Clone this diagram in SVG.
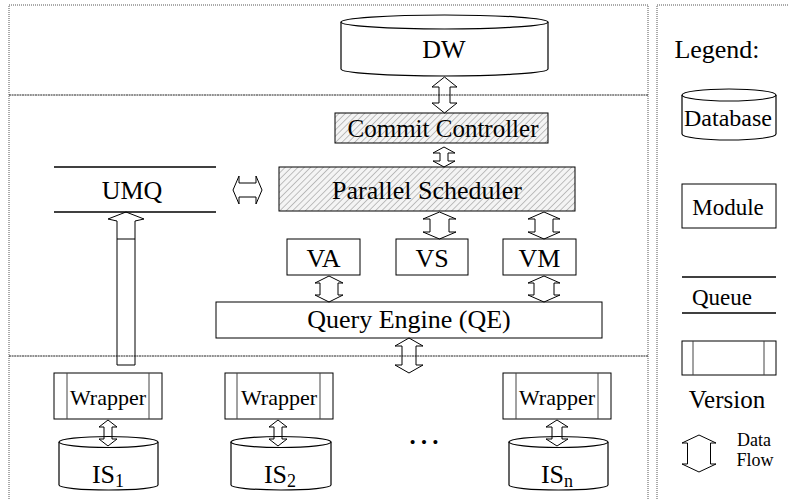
<svg xmlns="http://www.w3.org/2000/svg" width="788" height="499" viewBox="0 0 788 499">
<style>
text{font-family:"Liberation Serif","Times New Roman",serif;fill:#000;text-anchor:middle}
.frame{fill:none;stroke:#555;stroke-width:1;stroke-dasharray:1 1}
.div{fill:none;stroke:#222;stroke-width:1;stroke-dasharray:2 0.6}
.box{fill:#fff;stroke:#000;stroke-width:1}
.hatch{fill:url(#hatch);stroke:#000;stroke-width:1}
.inner{stroke:#444;stroke-width:1}
.q{stroke:#000;stroke-width:1.3}
.arr{fill:none;stroke:#000;stroke-width:1}
.cyl{fill:#fff;stroke:#000;stroke-width:1.2}
</style>
<defs>
<pattern id="hatch" width="4.5" height="4.5" patternUnits="userSpaceOnUse" patternTransform="rotate(45)">
<rect width="4.5" height="4.5" fill="#f4f4f4"/>
<line x1="0" y1="0" x2="0" y2="4.5" stroke="#888" stroke-width="1"/>
</pattern>
</defs>
<rect width="788" height="499" fill="#fff"/>
<g id="frames">
<path class="frame" d="M9,499 V5 H648 V499"/>
<path class="frame" d="M657,499 V5 H788"/>
<line class="div" x1="9" y1="95" x2="648" y2="95"/>
<line class="div" x1="9" y1="356" x2="648" y2="356"/>
</g>
<g id="DW">
<path class="cyl" d="M341,22 V69 A103.5,7 0 0 0 548,69 V22"/>
<ellipse class="cyl" cx="444.5" cy="22" rx="103.5" ry="7"/>
<text x="444" y="58" font-size="26">DW</text>
</g>
<g id="commit-controller">
<rect class="hatch" x="335" y="113" width="213" height="30"/>
<text x="443" y="137" font-size="25">Commit Controller</text>
</g>
<g id="parallel-scheduler">
<rect class="hatch" x="279" y="167" width="296" height="44"/>
<text x="427" y="199" font-size="26">Parallel Scheduler</text>
</g>
<g id="UMQ">
<line class="q" x1="54" y1="167" x2="216" y2="167"/>
<line class="q" x1="54" y1="212" x2="216" y2="212"/>
<text x="132" y="199" font-size="26">UMQ</text>
</g>
<g id="VA">
<rect class="box" x="287" y="239" width="73" height="36"/>
<text x="323.5" y="267" font-size="26">VA</text>
</g>
<g id="VS">
<rect class="box" x="396" y="239" width="72" height="36"/>
<text x="432" y="267" font-size="26">VS</text>
</g>
<g id="VM">
<rect class="box" x="503" y="239" width="73" height="36"/>
<text x="539.5" y="267" font-size="26">VM</text>
</g>
<g id="QE">
<rect class="box" x="216" y="302" width="386" height="36"/>
<text x="409" y="328" font-size="26">Query Engine (QE)</text>
</g>
<g id="wrapper1">
<rect class="box" x="54" y="373" width="108" height="46"/>
<line class="inner" x1="67" y1="373" x2="67" y2="419"/>
<line class="inner" x1="149" y1="373" x2="149" y2="419"/>
<text x="108" y="405" font-size="22">Wrapper</text>
</g>
<g id="wrapper2">
<rect class="box" x="225" y="373" width="108" height="46"/>
<line class="inner" x1="237" y1="373" x2="237" y2="419"/>
<line class="inner" x1="320" y1="373" x2="320" y2="419"/>
<text x="279" y="405" font-size="22">Wrapper</text>
</g>
<g id="wrapperN">
<rect class="box" x="503" y="373" width="108" height="46"/>
<line class="inner" x1="516" y1="373" x2="516" y2="419"/>
<line class="inner" x1="598" y1="373" x2="598" y2="419"/>
<text x="557" y="405" font-size="22">Wrapper</text>
</g>
<g id="IS1">
<path class="cyl" d="M59,442 V485 A49.5,5 0 0 0 158,485 V442"/>
<ellipse class="cyl" cx="108.5" cy="442" rx="49.5" ry="5.5"/>
<text x="108" y="483" font-size="26">IS<tspan font-size="18" dy="4">1</tspan></text>
</g>
<g id="IS2">
<path class="cyl" d="M231,442 V485 A50,5 0 0 0 331,485 V442"/>
<ellipse class="cyl" cx="281" cy="442" rx="50" ry="5.5"/>
<text x="280" y="483" font-size="26">IS<tspan font-size="18" dy="4">2</tspan></text>
</g>
<g id="ISn">
<path class="cyl" d="M509,442 V485 A49.5,5 0 0 0 608,485 V442"/>
<ellipse class="cyl" cx="558.5" cy="442" rx="49.5" ry="5.5"/>
<text x="557" y="483" font-size="26">IS<tspan font-size="18" dy="4">n</tspan></text>
</g>
<g id="ellipsis">
<text x="424" y="444" font-size="34">…</text>
</g>
<g id="legend">
<text x="717" y="58" font-size="26">Legend:</text>
<path class="cyl" d="M682,95 V134 A47,6 0 0 0 776,134 V95"/>
<ellipse class="cyl" cx="729" cy="95" rx="47" ry="6"/>
<text x="728" y="126" font-size="24">Database</text>
<rect class="box" x="682" y="184" width="94" height="44"/>
<text x="728" y="215" font-size="23">Module</text>
<line class="q" x1="682" y1="277" x2="776" y2="277"/>
<line class="q" x1="682" y1="313" x2="776" y2="313"/>
<text x="722" y="305" font-size="23">Queue</text>
<rect class="box" x="682" y="341" width="94" height="34"/>
<line class="inner" x1="693" y1="341" x2="693" y2="375"/>
<line class="inner" x1="764" y1="341" x2="764" y2="375"/>
<text x="727" y="408" font-size="25">Version</text>
<polygon class="arr" points="699,435 716,443 710.5,443 710.5,464 716,464 699,472 682,464 687.5,464 687.5,443 682,443"/>
<text x="754" y="446" font-size="18">Data</text>
<text x="755" y="466" font-size="18">Flow</text>
</g>
<g id="connectors">
<polygon class="arr" points="444.5,77 457,87 450,87 450,103 457,103 444.5,113 432,103 439,103 439,87 432,87"/>
<polygon class="arr" points="444,147 455,153 448,153 448,161 455,161 444,167 433,161 440,161 440,153 433,153"/>
<polygon class="arr" points="439.5,212 456,219 449,219 449,232 456,232 439.5,239 423,232 430,232 430,219 423,219"/>
<polygon class="arr" points="544,212 560,219 553,219 553,232 560,232 544,239 528,232 535,232 535,219 528,219"/>
<polygon class="arr" points="329,276 343,283 338,283 338,295 343,295 329,302 315,295 320,295 320,283 315,283"/>
<polygon class="arr" points="544,276 560,283 554,283 554,295 560,295 544,302 528,295 534,295 534,283 528,283"/>
<polygon class="arr" points="409,338 423,346 416,346 416,365 423,365 409,373 395,365 402,365 402,346 395,346"/>
<polygon class="arr" points="108,420 117,427 112,427 112,439 117,439 108,446 99,439 104,439 104,427 99,427"/>
<polygon class="arr" points="278,420 287,427 282,427 282,439 287,439 278,446 269,439 274,439 274,427 269,427"/>
<polygon class="arr" points="557,420 568,427 562,427 562,439 568,439 557,446 546,439 552,439 552,427 546,427"/>
<polygon class="arr" points="233,190 239,176 239,183 256,183 256,176 262,190 256,204 256,197 239,197 239,204"/>
<polygon class="arr" points="126,212 144,219 135,221 135,365 117,365 117,221 108,219"/>
<line x1="117" y1="239" x2="135" y2="239" stroke="#000" stroke-width="1"/>
</g>
</svg>
